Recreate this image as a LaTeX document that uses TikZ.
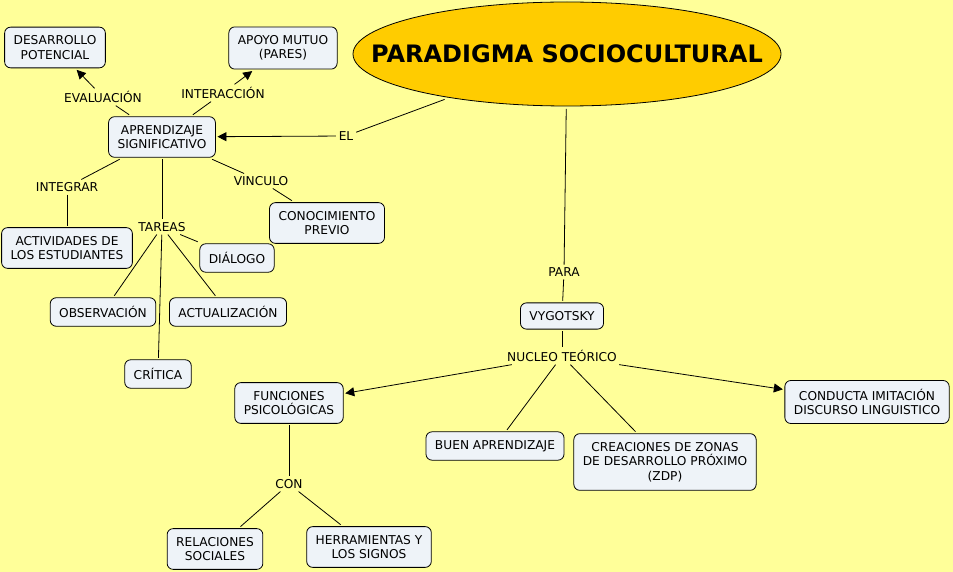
\documentclass[tikz,border=0pt]{standalone}
\usepackage{fontspec}
\setmainfont{DejaVu Sans}
\usetikzlibrary{arrows.meta, shapes.geometric}
\definecolor{fondo}{HTML}{FFFF99}
\definecolor{titulo}{HTML}{FFCC00}
\definecolor{caja}{HTML}{EEF3F8}

\begin{document}
\begin{tikzpicture}[x=1pt, y=-1pt, line width=0.8pt,
    concepto/.style={draw, fill=caja, rounded corners=6pt, align=center,
        inner xsep=9pt, inner ysep=8.5pt, outer sep=2pt,
        font=\fontsize{12.2}{14.5}\selectfont},
    enlace/.style={inner sep=2.5pt, font=\fontsize{12.2}{14.5}\selectfont},
    flecha/.style={-{Triangle[length=9pt, width=9pt]}}]

    % Background
    \fill[fondo] (0,0) rectangle (953,572);
    \useasboundingbox (0,0) rectangle (953,572);

    % Main idea
    \node[ellipse, draw, fill=titulo, minimum width=428pt, minimum height=104pt,
        inner sep=0pt, outer sep=3pt, font=\fontsize{24}{28}\selectfont\bfseries]
        (titulo) at (567,54) {\makebox[0pt]{PARADIGMA SOCIOCULTURAL}};

    % Concepts
    \node[concepto] (desarrollo) at (55,47.5) {DESARROLLO\\POTENCIAL};
    \node[concepto] (apoyo) at (283,48) {APOYO MUTUO\\(PARES)};
    \node[concepto] (aprendizaje) at (162,137) {APRENDIZAJE\\SIGNIFICATIVO};
    \node[concepto] (actividades) at (67,248) {ACTIVIDADES DE\\LOS ESTUDIANTES};
    \node[concepto] (conocimiento) at (327,223) {CONOCIMIENTO\\PREVIO};
    \node[concepto] (dialogo) at (237,258) {DIÁLOGO};
    \node[concepto] (observacion) at (103,312) {OBSERVACIÓN};
    \node[concepto] (actualizacion) at (228,312) {ACTUALIZACIÓN};
    \node[concepto] (critica) at (158,374) {CRÍTICA};
    \node[concepto] (vygotsky) at (562,316) {VYGOTSKY};
    \node[concepto] (funciones) at (289,403) {FUNCIONES\\PSICOLÓGICAS};
    \node[concepto] (buen) at (495,446) {BUEN APRENDIZAJE};
    \node[concepto] (zdp) at (665,462) {CREACIONES DE ZONAS\\DE DESARROLLO PRÓXIMO\\(ZDP)};
    \node[concepto] (conducta) at (867,402) {CONDUCTA IMITACIÓN\\DISCURSO LINGUISTICO};
    \node[concepto] (relaciones) at (215,549) {RELACIONES\\SOCIALES};
    \node[concepto] (herramientas) at (369,547) {HERRAMIENTAS Y\\LOS SIGNOS};

    % Linking words
    \node[enlace] (el) at (346,136) {EL};
    \node[enlace] (evaluacion) at (103,97) {EVALUACIÓN};
    \node[enlace] (interaccion) at (223,93) {INTERACCIÓN};
    \node[enlace] (integrar) at (67,187) {INTEGRAR};
    \node[enlace] (vinculo) at (261,181) {VINCULO};
    \node[enlace] (tareas) at (162,227) {TAREAS};
    \node[enlace] (para) at (564,272) {PARA};
    \node[enlace] (nucleo) at (562,356) {NUCLEO TEÓRICO};
    \node[enlace] (con) at (289,484) {CON};

    % Plain links
    \foreach \a/\b in {titulo/el, aprendizaje/evaluacion, aprendizaje/interaccion,
        aprendizaje/integrar, integrar/actividades, aprendizaje/vinculo,
        vinculo/conocimiento, aprendizaje/tareas, tareas/dialogo,
        tareas/observacion, tareas/actualizacion, tareas/critica,
        titulo/para, para/vygotsky, vygotsky/nucleo, nucleo/buen, nucleo/zdp,
        funciones/con, con/relaciones, con/herramientas}
        \draw (\a) -- (\b);

    % Arrows
    \foreach \a/\b in {el/aprendizaje, evaluacion/desarrollo, interaccion/apoyo,
        nucleo/funciones, nucleo/conducta}
        \draw[flecha] (\a) -- (\b);
\end{tikzpicture}
\end{document}
